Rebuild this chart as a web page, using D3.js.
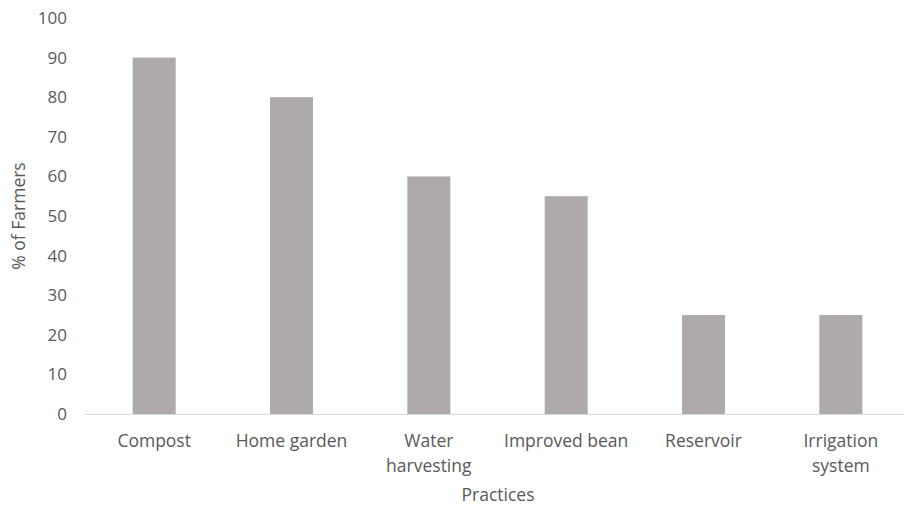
<!DOCTYPE html>
<html>
<head>
<meta charset="utf-8">
<script src="https://cdn.jsdelivr.net/npm/d3@7/dist/d3.min.js"></script>
<style>
  html, body { margin: 0; padding: 0; background: #fff; }
  svg text { font-family: "Open Sans", "Noto Sans", sans-serif; fill: #595959; }
</style>
</head>
<body>
<svg id="chart" width="904" height="506"></svg>
<script>
const categories = [["Compost"], ["Home garden"], ["Water", "harvesting"], ["Improved bean"], ["Reservoir"], ["Irrigation", "system"]];
const values = [90, 80, 60, 55, 25, 25];
const yTicks = [0, 10, 20, 30, 40, 50, 60, 70, 80, 90, 100];
const yTitle = "% of Farmers";
const xTitle = "Practices";

const svg = d3.select("#chart");
const keys = categories.map(c => c.join(" "));

const x = d3.scaleBand().domain(keys).range([85.5, 909.5]).paddingInner(0.687).paddingOuter(0.3435);
const y = d3.scaleLinear().domain([0, 100]).range([414, 18]);

// bars
svg.append("g").selectAll("rect").data(values).join("rect")
  .attr("x", (d, i) => x(keys[i]))
  .attr("y", d => y(d))
  .attr("width", x.bandwidth())
  .attr("height", d => y(0) - y(d))
  .attr("fill", "#ADAAA9");

// baseline
svg.append("line")
  .attr("x1", 85).attr("x2", 909)
  .attr("y1", y(0) + 0.5).attr("y2", y(0) + 0.5)
  .attr("stroke", "#D9D9D9").attr("stroke-width", 1);

// y axis labels
const yAxis = d3.axisLeft(y).tickValues(yTicks).tickSize(0).tickPadding(0);
const gy = svg.append("g").attr("transform", "translate(67,0)").call(yAxis);
gy.select(".domain").remove();
gy.selectAll("text").attr("font-size", 17).attr("fill", "#595959").attr("font-family", "Open Sans, sans-serif");

// category labels
const gx = svg.append("g");
categories.forEach((lines, i) => {
  const cx = x(keys[i]) + x.bandwidth() / 2;
  const t = gx.append("text")
    .attr("x", cx)
    .attr("y", 447)
    .attr("text-anchor", "middle")
    .attr("font-size", 17.5);
  lines.forEach((ln, j) => {
    t.append("tspan").attr("x", cx).attr("dy", j === 0 ? 0 : 25).text(ln);
  });
});

// axis titles
svg.append("text")
  .attr("x", 498).attr("y", 501)
  .attr("text-anchor", "middle")
  .attr("font-size", 17.5)
  .text(xTitle);

svg.append("text")
  .attr("transform", "translate(25,216) rotate(-90)")
  .attr("text-anchor", "middle")
  .attr("font-size", 17.5)
  .text(yTitle);
</script>
</body>
</html>
